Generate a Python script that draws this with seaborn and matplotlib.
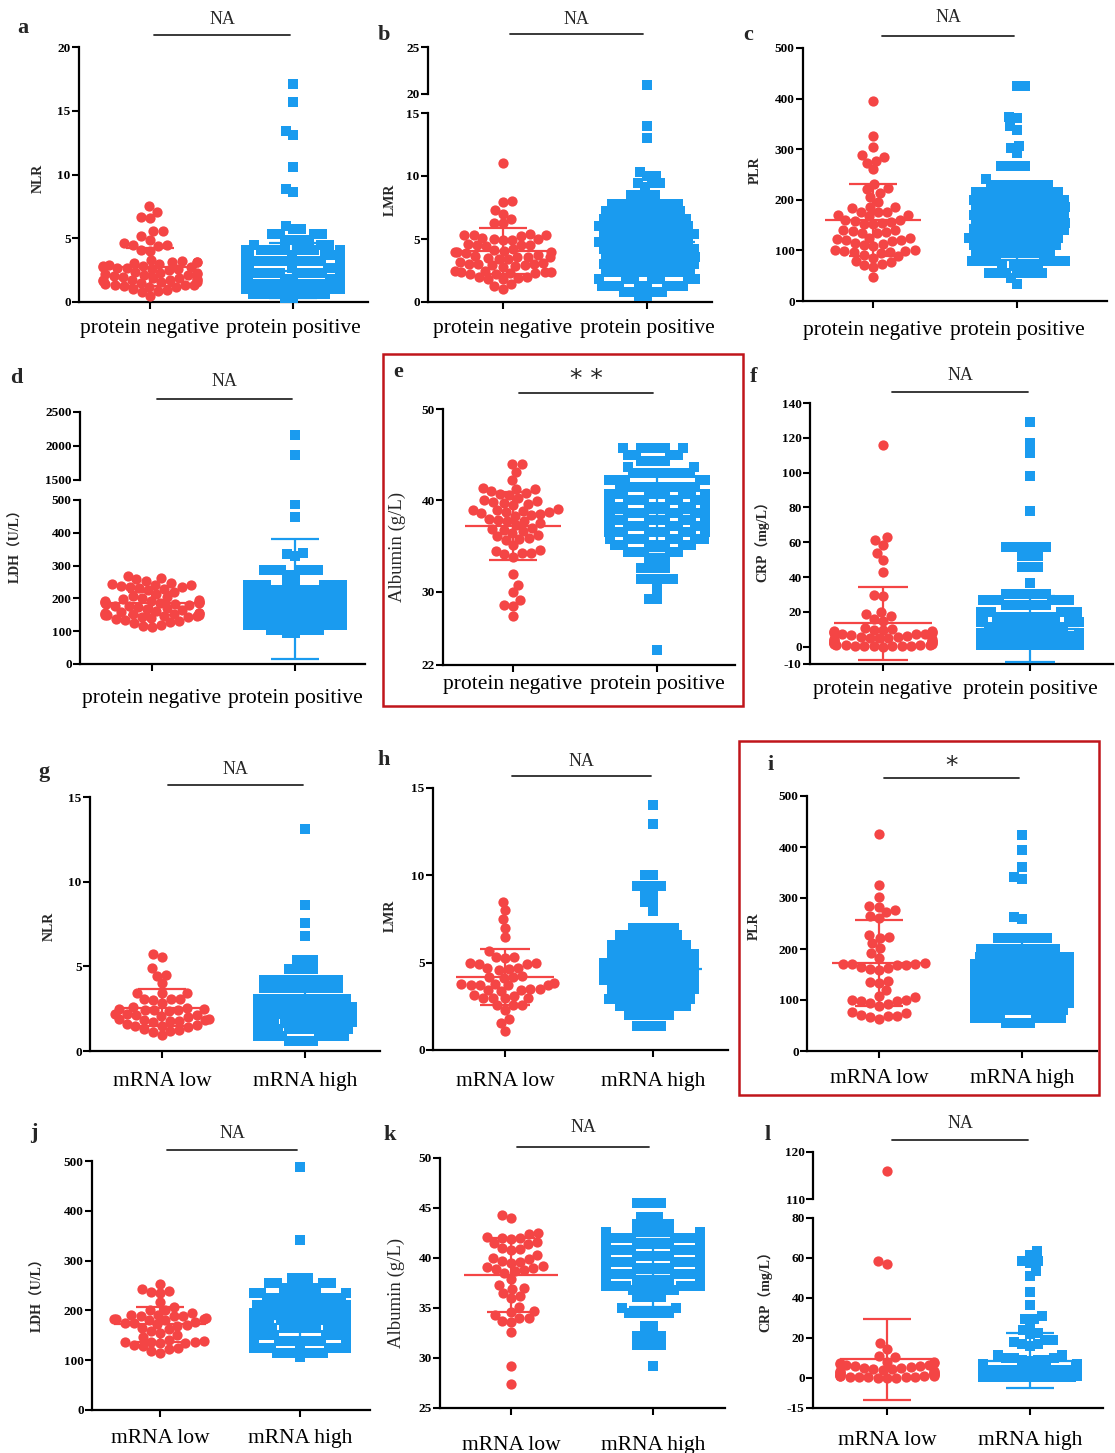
import numpy as np
import pandas as pd
import matplotlib
matplotlib.use('Agg')
import matplotlib.pyplot as plt
import matplotlib.transforms as mtransforms
from matplotlib.patches import Rectangle
import seaborn as sns
from seaborn import categorical as sns_categorical

# ---------------------------------------------------------------- data
protein_groups = ['protein negative', 'protein positive']
mrna_groups = ['mRNA low', 'mRNA high']

# a  NLR (protein)
a_neg = [7.5, 7.05, 6.7, 6.55, 5.6, 5.55, 5.15, 4.9, 4.6, 4.5, 4.45, 4.4, 4.05, 4.0, 3.3, 3.25,
         3.15, 3.1, 3.1, 3.05, 3.0, 2.9, 2.85, 2.8, 2.75, 2.75, 2.7, 2.65, 2.6, 2.55, 2.5,
         2.35, 2.3, 2.25, 2.2, 2.2, 2.15, 2.1, 2.05, 2.0, 1.9, 1.85, 1.8, 1.75, 1.75, 1.7, 1.7, 1.65,
         1.6, 1.55, 1.5, 1.4, 1.35, 1.3, 1.3, 1.25, 1.2, 1.15, 1.0, 0.95, 0.9, 0.8, 0.5]
a_pos = ([17.1, 15.7, 13.4, 13.1, 10.6, 8.85, 8.6, 6.0] + [5.7]*2 + [5.35]*4 + [4.85]*4 + [4.45]*3
         + [4.1]*10 + [3.7]*13 + [3.2]*15 + [2.7]*17 + [2.3]*19 + [1.8]*19 + [1.4]*17 + [1.0]*12
         + [0.6]*8 + [0.3]*2)
# b  LMR (protein)
b_neg = [11.0, 8.0, 7.95, 7.3, 7.0, 6.6, 6.3, 6.25, 5.4, 5.35, 5.3, 5.3, 5.25, 5.1, 5.0, 5.0, 4.95, 4.9,
         4.6, 4.55, 4.5, 4.5, 4.45, 4.2, 4.1, 4.05, 4.0, 4.0, 3.95, 3.9, 3.7, 3.65, 3.6, 3.6, 3.55, 3.5,
         3.45, 3.4, 3.15, 3.1, 3.05, 3.0, 3.0, 2.95, 2.9, 2.85, 2.8, 2.5, 2.45, 2.4, 2.4, 2.35, 2.3, 2.3,
         2.25, 2.2, 2.0, 1.95, 1.9, 1.85, 1.8, 1.4, 1.3, 1.05]
b_pos = ([21.0, 14.0, 13.0, 10.3] + [10.0]*2 + [9.45]*3 + [9.1] + [8.5]*4 + [7.8]*9 + [7.2]*10
         + [6.6]*11 + [6.0]*12 + [5.4]*12 + [4.8]*12 + [4.2]*12 + [3.6]*12 + [3.0]*12 + [2.4]*11
         + [1.8]*10 + [1.3]*8 + [0.8]*4 + [0.5]*2)
# c  PLR (protein)
c_neg = [395, 327, 305, 288, 285, 277, 273, 260, 232, 224, 222, 213, 206, 196, 186, 186, 183, 176, 176, 175,
         170, 170, 168, 160, 160, 158, 156, 155, 153, 152, 140, 140, 138, 136, 135, 134, 125, 124, 123, 121,
         120, 118, 115, 112, 110, 108, 100, 100, 99, 98, 97, 96, 95, 90, 88, 85, 80, 77, 74, 71, 67, 47]
c_pos = ([425, 424, 363, 361, 345, 338, 307, 302, 292] + [266]*4 + [242]
         + [230]*8 + [215]*11 + [200]*12 + [185]*12 + [170]*12 + [155]*12 + [140]*12 + [125]*12
         + [110]*11 + [95]*10 + [80]*8 + [70]*5 + [56]*7 + [45, 34])
# d  LDH (protein)
d_neg = [268, 262, 258, 252, 248, 244, 242, 240, 238, 236, 234, 232, 230, 225, 220, 214, 208, 204,
         200, 197, 195, 193, 191, 190, 189, 188, 187, 186, 185, 184, 182, 180, 178, 176, 174, 171, 168, 165,
         162, 158, 156, 155, 154, 153, 152, 151, 150, 149, 148, 147, 146, 144, 142, 139, 136, 133, 130, 127,
         124, 120, 116, 112]
d_pos = ([2160, 1866, 487, 449, 339, 334, 330] + [287]*6 + [272]*2
         + [240]*10 + [225]*12 + [210]*14 + [195]*16 + [180]*18 + [165]*18 + [150]*18 + [135]*14
         + [120]*10 + [105]*5 + [95]*2)
# e  Albumin (protein)
e_neg = [44.0, 44.0, 43.1, 42.2, 41.4, 41.3, 41.2, 41.0, 40.8, 40.7, 40.6, 40.3, 40.0, 39.9, 39.8, 39.7,
         39.6, 39.5, 39.1, 39.0, 38.9, 38.8, 38.7, 38.7, 38.6, 38.5, 38.4, 38.3, 38.0, 37.9, 37.8, 37.7,
         37.5, 37.3, 37.0, 36.9, 36.8, 36.7, 36.4, 36.2, 36.1, 35.9, 35.8, 35.7, 35.1, 34.6, 34.5, 34.3,
         34.2, 34.1, 33.8, 32.0, 30.8, 30.0, 29.1, 28.6, 28.5, 27.4]
e_pos = ([45.7]*6 + [45.0]*4 + [44.3]*4 + [43.7]*2
         + [43.0]*8 + [42.2]*9 + [41.5]*10 + [40.7]*10 + [40.0]*11 + [39.3]*11 + [38.6]*11 + [37.9]*10
         + [37.2]*10 + [36.5]*9 + [35.8]*8 + [35.1]*7 + [34.4]*5 + [33.7]*3
         + [32.6]*4 + [31.4]*5 + [30.3] + [29.2]*2 + [23.6])
# f  CRP (protein)
f_neg = [116, 63, 61.5, 58.5, 54, 50, 43, 29.5, 29, 20, 18.5, 17.5, 16, 15, 10.5, 10, 9.8, 9.5, 9.0, 8.7,
         8.5, 8.2, 8.0, 7.8, 7.5, 7.2, 7.0, 6.6, 6.2, 5.8, 5.5, 5.2, 5.0, 4.7, 4.4, 4.1, 3.8, 3.5, 3.2, 3.0,
         2.8, 2.5, 2.3, 2.0, 1.8, 1.6, 1.4, 1.2, 1.0, 0.9, 0.8, 0.6, 0.5, 0.4, 0.3, 0.2, 0.1, 0.05]
f_pos = ([129, 117, 111, 98, 78] + [57]*6 + [52]*3 + [46]*3 + [36.5]
         + [30]*6 + [27]*6 + [24]*6 + [20]*6 + [17]*8 + [14]*8 + [11]*10 + [8]*14 + [6]*16 + [4]*18
         + [2]*18 + [0.8]*16)
# g  NLR (mRNA)
g_neg = [5.75, 5.55, 4.9, 4.5, 4.45, 4.0, 3.45, 3.45, 3.4, 3.1, 3.1, 3.05, 3.0, 2.85, 2.6, 2.55, 2.5, 2.5,
         2.45, 2.4, 2.4, 2.35, 2.2, 2.2, 2.15, 2.1, 2.05, 2.0, 1.9, 1.9, 1.85, 1.85, 1.8, 1.8, 1.7, 1.6,
         1.55, 1.5, 1.45, 1.4, 1.3, 1.25, 1.2, 1.1, 0.95]
g_pos = ([13.1, 8.65, 7.55, 6.8] + [5.4]*3 + [4.85]*4
         + [4.2]*10 + [3.7]*10 + [3.1]*12 + [2.6]*14 + [2.2]*14 + [1.7]*14 + [1.3]*12 + [0.9]*8 + [0.6]*4)
# h  LMR (mRNA)
h_neg = [8.5, 8.0, 7.5, 7.0, 6.45, 5.65, 5.35, 5.3, 5.25, 5.0, 5.0, 4.95, 4.9, 4.7, 4.7, 4.65, 4.6, 4.25,
         4.2, 4.2, 4.15, 3.85, 3.8, 3.8, 3.75, 3.75, 3.7, 3.7, 3.5, 3.5, 3.45, 3.45, 3.4, 3.15, 3.1, 3.0,
         3.0, 3.0, 2.95, 2.6, 2.6, 2.55, 2.3, 1.75, 1.55, 1.1]
h_pos = ([14.0, 12.95] + [10.0]*2 + [9.4]*4 + [8.9]*2 + [8.45]*2 + [7.95]
         + [7.0]*6 + [6.6]*8 + [6.0]*10 + [5.5]*11 + [5.0]*12 + [4.5]*12 + [4.0]*12 + [3.5]*11
         + [2.9]*11 + [2.5]*9 + [2.0]*6 + [1.4]*4)
# i  PLR (mRNA)
i_neg = [425, 325, 302, 285, 283, 276, 272, 265, 260, 228, 223, 222, 212, 201, 193, 183, 172, 171, 170,
         170, 169, 168, 165, 162, 160, 158, 138, 136, 134, 120, 108, 105, 100, 100, 99, 98, 95, 93, 89,
         76, 74, 70, 69, 68, 66, 62]
i_pos = ([424, 394, 360, 342, 337, 263, 258] + [222]*7
         + [200]*10 + [185]*12 + [170]*14 + [155]*14 + [140]*16 + [125]*16 + [110]*16 + [95]*14
         + [80]*12 + [65]*8 + [55]*4)
# j  LDH (mRNA)
j_neg = [253, 242, 239, 236, 235, 217, 206, 201, 200, 195, 191, 190, 189, 189, 188, 184, 183, 182, 182,
         181, 180, 176, 175, 174, 172, 170, 168, 165, 162, 158, 155, 150, 147, 140, 138, 137, 136, 136,
         135, 134, 130, 128, 124, 122, 118, 115]
j_pos = ([487, 341] + [265]*3 + [255]*4 + [245]*5 + [235]*6 + [225]*10 + [210]*12 + [195]*14
         + [180]*16 + [165]*16 + [150]*16 + [138]*14 + [125]*10 + [115]*6 + [106])
# k  Albumin (mRNA)
k_neg = [44.3, 44.0, 42.5, 42.4, 42.1, 42.0, 42.0, 41.9, 41.6, 41.5, 41.4, 41.0, 40.9, 40.8, 40.3, 40.0,
         39.9, 39.7, 39.6, 39.5, 39.2, 39.1, 39.0, 38.9, 38.8, 38.7, 38.5, 37.9, 37.3, 37.0, 36.9, 36.5,
         36.2, 36.0, 35.1, 34.7, 34.6, 34.3, 34.0, 34.0, 33.7, 33.6, 32.6, 29.2, 27.4]
k_pos = ([45.5]*4 + [44.1]*3 + [43.4]*5
         + [42.6]*8 + [42.0]*10 + [41.4]*11 + [40.8]*12 + [40.2]*13 + [39.6]*13 + [39.0]*13 + [38.4]*13
         + [37.8]*12 + [37.2]*10 + [36.8]*6
         + [36.1]*4 + [35.0]*2 + [34.5]*6 + [33.2]*2 + [32.2]*4 + [31.3]*4 + [29.2])
# l  CRP (mRNA)
l_neg = [116, 58.5, 57, 17.5, 14.5, 10.8, 10.5, 8.2, 7.9, 7.6, 7.3, 7.0, 6.7, 6.4, 6.1, 5.8, 5.5, 5.2,
         4.9, 4.6, 4.3, 4.0, 3.7, 3.4, 3.1, 2.8, 2.6, 2.4, 2.2, 2.0, 1.8, 1.6, 1.4, 1.2, 1.0, 0.9, 0.8,
         0.7, 0.6, 0.5, 0.4, 0.3, 0.2, 0.1, 0.05]
l_pos = ([63.7, 61.7, 58.7, 58.5, 57.5, 53.3, 50.8, 42.8, 36.7, 30.8, 29.7, 29.5, 26.3, 24.2, 22.5, 22.0,
          19.2, 19.0, 18.0, 17.0, 16.8, 16.0, 11.7, 11.5, 10.2, 10.0, 9.8, 9.2, 9.0, 8.8, 8.6]
         + [7.0]*10 + [5.5]*14 + [4.0]*18 + [2.5]*20 + [1.2]*20 + [0.3]*12)

neg_series = [a_neg, b_neg, c_neg, d_neg, e_neg, f_neg, g_neg, h_neg, i_neg, j_neg, k_neg, l_neg]
pos_series = [a_pos, b_pos, c_pos, d_pos, e_pos, f_pos, g_pos, h_pos, i_pos, j_pos, k_pos, l_pos]

# mean and SD as drawn
mean_neg = [2.75, 4.05, 160, 185, 37.2, 13.5, 2.55, 4.2, 172, 172, 38.3, 9.4]
sd_neg = [1.5, 1.85, 72, 35, 3.75, 21, 1.1, 1.6, 84, 35, 3.7, 20.2]
mean_pos = [2.45, 4.8, 150, 198, 38.6, 10, 2.8, 4.65, 146, 182, 38.5, 8.7]
sd_pos = [2.15, 2.6, 68, 183, 4.1, 19, 1.4, 2.2, 70, 45, 3.4, 13.8]

letters = list('abcdefghijkl')
ylabels = ['NLR', 'LMR', 'PLR', 'LDH（U/L）', 'Albumin (g/L)', 'CRP（mg/L）',
           'NLR', 'LMR', 'PLR', 'LDH（U/L）', 'Albumin (g/L)', 'CRP（mg/L）']
sig_labels = ['NA', 'NA', 'NA', 'NA', '* *', 'NA', 'NA', 'NA', '*', 'NA', 'NA', 'NA']
group_names = [protein_groups]*6 + [mrna_groups]*6

ylims = [(0, 20), (0, 15), (0, 500), (0, 500), (22, 50), (-10, 140),
         (0, 15), (0, 15), (0, 500), (0, 500), (25, 50), (-15, 80)]
yticks = [[0, 5, 10, 15, 20], [0, 5, 10, 15], [0, 100, 200, 300, 400, 500], [0, 100, 200, 300, 400, 500],
          [22, 30, 40, 50], [-10, 0, 20, 40, 60, 80, 100, 120, 140],
          [0, 5, 10, 15], [0, 5, 10, 15], [0, 100, 200, 300, 400, 500], [0, 100, 200, 300, 400, 500],
          [25, 30, 35, 40, 45, 50], [-15, 0, 20, 40, 60, 80]]
upper_lims = {1: (20, 25), 3: (1500, 2500), 11: (110, 120)}
upper_ticks = {1: [20, 25], 3: [1500, 2000, 2500], 11: [110, 120]}

# ---------------------------------------------------------------- layout (pixels)
W, H = 1115, 1453
boxes = [(79, 368, 302, 47), (428, 712, 302, 113), (803, 1107, 301, 48),
         (80, 365, 664, 500), (443, 735, 665, 409), (810, 1113, 664, 403),
         (90, 380, 1051, 797), (433, 728, 1050, 788), (807, 1097, 1051, 796),
         (92, 370, 1410, 1161), (440, 725, 1408, 1158), (813, 1103, 1408, 1218)]
tick_px = [(150, 293), (503, 647), (873, 1017), (152, 295), (513, 657), (883, 1030),
           (162, 305), (505, 653), (879, 1022), (160, 300), (511, 653), (887, 1030)]
upper_px = {1: (94, 47), 3: (480, 412), 11: (1199, 1152)}
sig_line = [(35, 154, 290), (34, 510, 643), (36, 882, 1014), (399, 157, 292), (393, 519, 653),
            (392, 892, 1028), (785, 168, 303), (776, 512, 651), (778, 884, 1019), (1150, 167, 297),
            (1147, 517, 649), (1140, 892, 1028)]
sig_text_y = [19, 19, 18, 381, 379, 375, 769, 762, 766, 1133, 1128, 1124]
letter_pos = [(17, 33), (378, 40), (743, 40), (10, 383), (393, 377), (750, 382),
              (38, 777), (377, 765), (767, 770), (30, 1138), (383, 1140), (765, 1140)]
ylabel_pos = [(38, 178), (390, 200), (755, 170), (16, 543), (397, 547), (762, 538),
              (49, 926), (390, 916), (754, 926), (38, 1292), (396, 1293), (765, 1288)]
xlab_pad = [7.0, 7.0, 9.6, 13.2, 2.0, 6.5, 10.4, 11.0, 8.2, 8.9, 15.4, 11.8]

RED = '#F44545'
BLUE = '#1A9BEF'
BOX_RED = '#C0151B'
SWARM_SIZE_NEG = 6.4   # packing distance for the circles
SWARM_SIZE_POS = 5.6   # packing distance for the squares
MARKER_SIZE = 7.4      # drawn marker size (markers overlap a little, as in the original)
SWARM_WIDTH = 0.66     # width of each swarm in category units

# narrower swarm band than seaborn's default 0.8
_beeswarm_init = sns_categorical.Beeswarm.__init__


def _narrow_beeswarm_init(self, *args, **kwargs):
    kwargs['width'] = SWARM_WIDTH
    _beeswarm_init(self, *args, **kwargs)


sns_categorical.Beeswarm.__init__ = _narrow_beeswarm_init

sns.set_theme(style='ticks')
plt.rcParams['font.family'] = ['Liberation Serif', 'Noto Sans CJK SC']
plt.rcParams['axes.unicode_minus'] = False

fig = plt.figure(figsize=(W / 100, H / 100), dpi=100)


def fx(x):
    return x / W


def fy(y):
    return 1 - y / H


def style_axis(ax, ticks, lims):
    for s in ['top', 'right']:
        ax.spines[s].set_visible(False)
    for s in ['left', 'bottom']:
        ax.spines[s].set_linewidth(1.6)
        ax.spines[s].set_color('black')
    ax.set_ylim(*lims)
    ax.set_yticks(ticks)
    ax.set_yticklabels([f'{t:g}' for t in ticks], fontweight='bold', fontsize=9.5)
    ax.tick_params(axis='y', direction='out', length=5, width=1.5, pad=1, colors='black')
    ax.set_xlabel('')
    ax.set_ylabel('')
    ax.set_facecolor('none')


for p in range(12):
    L, R, B, T = boxes[p]
    t0, t1 = tick_px[p]
    s = t1 - t0
    xlo, xhi = -(t0 - L) / s, 1 + (R - t1) / s
    cats = group_names[p]

    ax = fig.add_axes([fx(L), fy(B), (R - L) / W, (B - T) / H])
    axes_list = [ax]
    if p in upper_px:
        uB, uT = upper_px[p]
        axu = fig.add_axes([fx(L), fy(uB), (R - L) / W, (uB - uT) / H])
        axes_list.append(axu)

    df_n = pd.DataFrame({'group': cats[0], 'value': neg_series[p]})
    df_p = pd.DataFrame({'group': cats[1], 'value': pos_series[p]})

    for k, a in enumerate(axes_list):
        sns.swarmplot(data=df_n, x='group', y='value', order=cats, color=RED, marker='o',
                      size=SWARM_SIZE_NEG, linewidth=0, ax=a, warn_thresh=1, zorder=3)
        sns.swarmplot(data=df_p, x='group', y='value', order=cats, color=BLUE, marker='s',
                      size=SWARM_SIZE_POS, linewidth=0, ax=a, warn_thresh=1, zorder=3)
        for gi, (m, sd, c) in enumerate([(mean_neg[p], sd_neg[p], RED), (mean_pos[p], sd_pos[p], BLUE)]):
            a.hlines(m, gi - 0.33, gi + 0.33, color=c, lw=1.6, zorder=4)
            a.vlines(gi, m - sd, m + sd, color=c, lw=1.6, zorder=4)
            a.hlines([m - sd, m + sd], gi - 0.17, gi + 0.17, color=c, lw=1.6, zorder=4)
        a.set_xlim(xlo, xhi)
        if k == 0:
            style_axis(a, yticks[p], ylims[p])
            a.set_xticks([0, 1])
            a.set_xticklabels(cats, fontsize=15.5)
            a.tick_params(axis='x', direction='out', length=5, width=1.5, pad=xlab_pad[p], colors='black')
        else:
            style_axis(a, upper_ticks[p], upper_lims[p])
            a.spines['bottom'].set_visible(False)
            a.set_xticks([])

    # significance bracket
    ly, lx0, lx1 = sig_line[p]
    trans = mtransforms.blended_transform_factory(ax.transData, fig.transFigure)
    ax.plot([(lx0 - t0) / s, (lx1 - t0) / s], [fy(ly), fy(ly)], transform=trans,
            color='#2a2a2a', lw=1.3, clip_on=False)
    if '*' in sig_labels[p]:
        fig.text(fx((lx0 + lx1) / 2), fy(sig_text_y[p]), sig_labels[p], ha='center', va='center',
                 fontsize=18, family='DejaVu Sans')
    else:
        fig.text(fx((lx0 + lx1) / 2), fy(sig_text_y[p]), sig_labels[p], ha='center', va='center',
                 fontsize=13)

    # panel letter
    lx, lyb = letter_pos[p]
    fig.text(fx(lx), fy(lyb), letters[p], ha='left', va='baseline', fontsize=16, fontweight='bold')

    # y label
    yx, yy = ylabel_pos[p]
    if ylabels[p].startswith('Albumin'):
        fig.text(fx(yx), fy(yy), ylabels[p], rotation=90, ha='center', va='center', fontsize=13.5)
    else:
        fig.text(fx(yx), fy(yy), ylabels[p], rotation=90, ha='center', va='center', fontsize=10,
                 fontweight='bold')

# highlight boxes around panels e and i
for (x0, y0, x1, y1) in [(383, 354, 743, 706), (739, 741, 1099, 1095)]:
    fig.add_artist(Rectangle((fx(x0), fy(y1)), (x1 - x0) / W, (y1 - y0) / H, transform=fig.transFigure,
                             fill=False, edgecolor=BOX_RED, lw=1.8))

# let seaborn pack the swarms at the final axis limits, then freeze them and
# draw the markers slightly larger than the packing distance (GraphPad look)
fig.canvas.draw()
for a in fig.axes:
    for coll in a.collections:
        if 'draw' in coll.__dict__:
            del coll.draw
            coll.set_sizes([MARKER_SIZE ** 2])

fig.savefig('out.png', dpi=100)
